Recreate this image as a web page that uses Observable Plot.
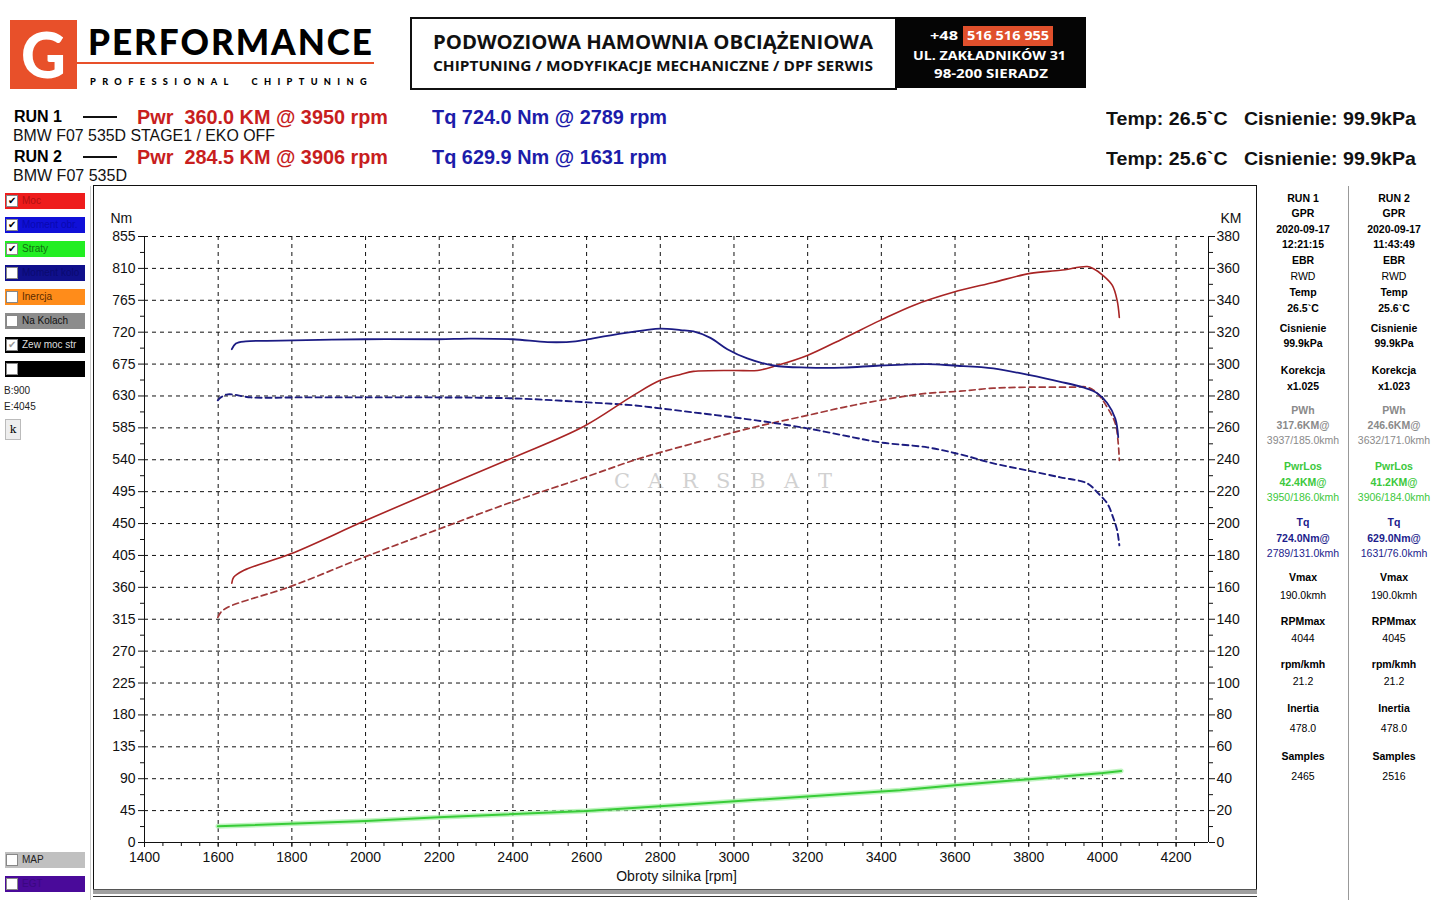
<!DOCTYPE html>
<html>
<head>
<meta charset="utf-8">
<script src="https://cdn.jsdelivr.net/npm/d3@7"></script>
<script src="https://cdn.jsdelivr.net/npm/@observablehq/plot@0.6"></script>
<style>
  html, body { margin:0; padding:0; background:#fff; }
  body { width:1440px; height:900px; position:relative; overflow:hidden; font-family:"Liberation Sans", Arial, sans-serif; color:#000; }
  .abs { position:absolute; white-space:nowrap; }
  .fit { transform-origin:0 0; display:inline-block; white-space:pre; }
  .leg { position:absolute; left:5px; width:80px; height:16px; font-size:10px; line-height:16px; }
  .leg .cb { position:absolute; left:1px; top:2px; width:10px; height:10px; background:#fff; border:1px solid #888; font-size:10px; line-height:10px; text-align:center; color:#000; }
  .leg .tx { position:absolute; left:17px; top:0; }
  .panel { position:absolute; top:186px; width:90px; text-align:center; font-family:"Liberation Sans", Arial, sans-serif; font-size:10.5px; }
  .panel div { position:absolute; left:0; width:90px; }
  .b { font-weight:bold; }
</style>
</head>
<body>
<script>
// ---------------- DATA ----------------
const xMin = 1400, xMax = 4288;
const xTickLabels = [1400,1600,1800,2000,2200,2400,2600,2800,3000,3200,3400,3600,3800,4000,4200];
const nmTickLabels = [0,45,90,135,180,225,270,315,360,405,450,495,540,585,630,675,720,765,810,855];
const kmTickLabels = [0,20,40,60,80,100,120,140,160,180,200,220,240,260,280,300,320,340,360,380];
const nmPerKm = 855 / 380;

// RUN 1 torque (Nm) - solid blue
const run1TqRpm = [1637,1648,1675,1770,2000,2198,2285,2400,2494,2570,2603,2692,2760,2800,2855,2890,2936,2982,3036,3107,3199,3297,3397,3525,3595,3704,3796,3886,3948,3986,4013,4035,4043];
const run1Tq    = [696,704,707,708,710,710,711,710,706,707,710,718,723,725,723,721,712,696,683,673,670,670,673,675,673,669,660,650,642,634,620,598,572];
// RUN 1 power (KM) - solid red
const run1PwrRpm = [1637,1642,1670,1797,1995,2196,2402,2592,2727,2800,2855,2890,2999,3064,3118,3199,3297,3397,3487,3595,3704,3804,3886,3959,3975,4002,4027,4040,4046];
const run1Pwr    = [162.6,166.3,170.7,181.0,201.4,221.4,241.5,260.9,280.4,289.8,293.5,295.4,296.0,296.0,299.2,305.4,316.1,327.4,336.8,345.0,351.2,356.9,358.8,361.2,359.9,355.5,349.3,339.9,329.2];
// RUN 2 torque (Nm) - dashed blue
const run2TqRpm = [1599,1607,1626,1689,1824,2006,2185,2402,2603,2727,2800,2890,2999,3099,3199,3297,3397,3525,3614,3704,3796,3886,3959,3986,4013,4029,4040,4046];
const run2Tq    = [623.8,628.0,632.3,628.0,628.0,628.0,628.0,626.6,621.0,616.8,612.5,606.8,599.8,592.7,584.3,574.4,564.5,557.5,547.6,534.9,525.0,515.2,506.7,494.0,478.5,458.8,440.4,419.3];
// RUN 2 power (KM) - dashed red
const run2PwrRpm = [1599,1607,1626,1797,1995,2196,2402,2603,2727,2800,2890,2999,3099,3199,3297,3397,3525,3614,3704,3804,3921,3959,3986,4013,4035,4043,4046];
const run2Pwr    = [141.2,144.3,147.5,160.6,178.8,196.3,213.9,229.6,239.6,244.6,250.3,257.2,262.8,267.8,272.9,277.3,281.7,283.0,284.9,285.5,285.5,285.5,281.7,272.9,262.8,250.3,239.6];
// Losses (KM) - green
const lossRpm = [1599,2001,2198,2600,2882,3451,3600,3801,4002,4051];
const loss    = [10.2,13.5,15.9,19.8,24.0,32.8,35.9,39.7,43.6,44.9];

// Header texts
const runTitles = ["RUN 1","RUN 2"];
const runCars = ["BMW F07 535D STAGE1 / EKO OFF","BMW F07 535D"];
const pwrTexts = ["Pwr  360.0 KM @ 3950 rpm","Pwr  284.5 KM @ 3906 rpm"];
const tqTexts = ["Tq 724.0 Nm @ 2789 rpm","Tq 629.9 Nm @ 1631 rpm"];
const envTexts = ["Temp: 26.5`C   Cisnienie: 99.9kPa","Temp: 25.6`C   Cisnienie: 99.9kPa"];
const watermarkLetters = ["C","A","R","S","B","A","T"];

// Legend items
const legendItems = [
  {label:"Moc", bg:"#ee1c1c", fg:"#b01010", checked:true},
  {label:"Moment obr.", bg:"#1010d8", fg:"#0808b0", checked:true},
  {label:"Straty", bg:"#22ee22", fg:"#107010", checked:true},
  {label:"Moment kolo", bg:"#10108c", fg:"#0a0a70", checked:false},
  {label:"Inercja", bg:"#ff8c1a", fg:"#5a2a00", checked:false},
  {label:"Na Kolach", bg:"#8c8c8c", fg:"#111", checked:false},
  {label:"Zew moc str", bg:"#000", fg:"#ddd", checked:true, gray:true},
  {label:"", bg:"#000", fg:"#fff", checked:false}
];
const legendBottom = [
  {label:"MAP", bg:"#c0c0c0", fg:"#222", checked:false},
  {label:"EGT", bg:"#4a0a9a", fg:"#3a0880", checked:false}
];

// Right info panel
const panelRows = [
  ["RUN 1","RUN 2","b","#000",199],
  ["GPR","GPR","b","#000",214],
  ["2020-09-17","2020-09-17","b","#000",230],
  ["12:21:15","11:43:49","b","#000",245],
  ["EBR","EBR","b","#000",261],
  ["RWD","RWD","","#000",277],
  ["Temp","Temp","b","#000",293],
  ["26.5`C","25.6`C","b","#000",309],
  ["Cisnienie","Cisnienie","b","#000",329],
  ["99.9kPa","99.9kPa","b","#000",344],
  ["Korekcja","Korekcja","b","#000",371],
  ["x1.025","x1.023","b","#000",387],
  ["PWh","PWh","b","#8a8a8a",411],
  ["317.6KM@","246.6KM@","b","#8a8a8a",426],
  ["3937/185.0kmh","3632/171.0kmh","","#8a8a8a",441],
  ["PwrLos","PwrLos","b","#3cc83c",467],
  ["42.4KM@","41.2KM@","b","#3cc83c",483],
  ["3950/186.0kmh","3906/184.0kmh","","#3cc83c",498],
  ["Tq","Tq","b","#1c1c8c",523],
  ["724.0Nm@","629.0Nm@","b","#1c1c8c",539],
  ["2789/131.0kmh","1631/76.0kmh","","#1c1c8c",554],
  ["Vmax","Vmax","b","#000",578],
  ["190.0kmh","190.0kmh","","#000",596],
  ["RPMmax","RPMmax","b","#000",622],
  ["4044","4045","","#000",639],
  ["rpm/kmh","rpm/kmh","b","#000",665],
  ["21.2","21.2","","#000",682],
  ["Inertia","Inertia","b","#000",709],
  ["478.0","478.0","","#000",729],
  ["Samples","Samples","b","#000",757],
  ["2465","2516","","#000",777]
];

// ---------------- HELPERS ----------------
function add(html, style) {
  const d = document.createElement("div");
  d.className = "abs";
  d.innerHTML = html;
  Object.assign(d.style, style);
  document.body.appendChild(d);
  return d;
}
function fitText(text, left, top, width, style) {
  const d = add("", {left:left+"px", top:top+"px"});
  const s = document.createElement("span");
  s.className = "fit";
  s.textContent = text;
  Object.assign(s.style, style);
  d.appendChild(s);
  const w = s.getBoundingClientRect().width;
  if (w > 0) s.style.transform = `scaleX(${width / w})`;
  return d;
}

// ---------------- HEADER ----------------
add("", {left:"10px", top:"20px", width:"67px", height:"69px", background:"#e8502a"});
add("G", {left:"10px", top:"16px", width:"67px", textAlign:"center", fontFamily:"Lato, 'Open Sans', sans-serif", fontWeight:"900", fontSize:"62px", color:"#fff", lineHeight:"76px"});
fitText("PERFORMANCE", 88, 21, 286, {fontFamily:"Lato, 'Open Sans', sans-serif", fontWeight:"900", fontSize:"36px", lineHeight:"40px", letterSpacing:"2px"});
add("", {left:"77px", top:"62px", width:"297px", height:"2px", background:"#e8502a"});
fitText("PROFESSIONAL  CHIPTUNING", 90, 71, 283, {fontFamily:"Lato, sans-serif", fontWeight:"900", fontSize:"9px", lineHeight:"12px", letterSpacing:"6.2px"});

add("", {left:"410px", top:"17px", width:"483px", height:"69px", border:"2px solid #111", boxSizing:"content-box"});
fitText("PODWOZIOWA HAMOWNIA OBCIĄŻENIOWA", 433, 30, 440, {fontFamily:"'Open Sans', sans-serif", fontWeight:"700", fontSize:"19px", lineHeight:"24px", color:"#111"});
fitText("CHIPTUNING / MODYFIKACJE MECHANICZNE / DPF SERWIS", 433, 57, 440, {fontFamily:"'Open Sans', sans-serif", fontWeight:"700", fontSize:"14px", lineHeight:"18px", color:"#111"});
add("", {left:"895px", top:"17px", width:"191px", height:"71px", background:"#050505"});
fitText("+48", 930, 26, 28, {fontFamily:"'Open Sans', sans-serif", fontWeight:"700", fontSize:"13px", lineHeight:"18px", color:"#fff"});
add("", {left:"963px", top:"26px", width:"90px", height:"20px", background:"#e0502c"});
fitText("516 516 955", 967, 26, 82, {fontFamily:"'Open Sans', sans-serif", fontWeight:"700", fontSize:"13px", lineHeight:"19px", color:"#fff"});
fitText("UL. ZAKŁADNIKÓW 31", 913, 46, 153, {fontFamily:"'Open Sans', sans-serif", fontWeight:"700", fontSize:"13px", lineHeight:"18px", color:"#fff"});
fitText("98-200 SIERADZ", 934, 64, 114, {fontFamily:"'Open Sans', sans-serif", fontWeight:"700", fontSize:"13px", lineHeight:"18px", color:"#fff"});

// Run lines
[0,1].forEach(i => {
  const y = i === 0 ? 106 : 146;
  fitText(runTitles[i], 14, y+2, 48, {fontWeight:"bold", fontSize:"16px", lineHeight:"18px"});
  add("", {left:"83px", top:(y+10)+"px", width:"34px", height:"2px", background:"#111"});
  fitText(runCars[i], 13, y+21, i === 0 ? 262 : 114, {fontSize:"16px", lineHeight:"18px", color:"#111"});
  fitText(pwrTexts[i], 137, y, 251, {fontWeight:"bold", fontSize:"20px", lineHeight:"22px", color:"#c81e1e"});
  fitText(tqTexts[i], 432, y, 235, {fontWeight:"bold", fontSize:"20px", lineHeight:"22px", color:"#1c1caa"});
  fitText(envTexts[i], 1106, y+2, 310, {fontWeight:"bold", fontSize:"19px", lineHeight:"22px", color:"#111"});
});

// ---------------- LEFT LEGEND ----------------
function legItem(it, top) {
  const d = document.createElement("div");
  d.className = "leg";
  d.style.top = top + "px";
  d.style.background = it.bg;
  d.innerHTML = `<div class="cb" style="color:${it.gray ? "#999" : "#000"}">${it.checked ? "&#10004;" : ""}</div><div class="tx" style="color:${it.fg}">${it.label}</div>`;
  document.body.appendChild(d);
}
legendItems.forEach((it, i) => legItem(it, 193 + i * 24));
add("B:900", {left:"4px", top:"385px", fontSize:"10px", color:"#222"});
add("E:4045", {left:"4px", top:"401px", fontSize:"10px", color:"#222"});
add("k", {left:"5px", top:"419px", width:"14px", height:"19px", border:"1px solid #bbb", background:"#eee", fontSize:"11px", lineHeight:"19px", textAlign:"center", fontFamily:"'DejaVu Serif', serif"});
legendBottom.forEach((it, i) => legItem(it, 852 + i * 24));
add("", {left:"90px", top:"186px", width:"1px", height:"714px", background:"#ccc"});

// ---------------- CHART FRAME ----------------
add("", {left:"93px", top:"185px", width:"1162px", height:"704px", border:"1px solid #111"});
add("", {left:"93px", top:"889px", width:"1164px", height:"4px", background:"#a0a0a0", borderTop:"1px solid #555"});
add("", {left:"93px", top:"896px", width:"1164px", height:"1px", background:"#333"});
add("", {left:"1348px", top:"186px", width:"1px", height:"714px", background:"#999"});

// ---------------- PLOT ----------------
const xMinor = d3.range(1400, 4288, 50);
const nmMinor = d3.range(22.5, 855, 45);
const kmMinorNm = d3.range(10, 380, 20).map(v => v * nmPerKm);
const kmMajorNm = kmTickLabels.map(v => v * nmPerKm);
const gridX = xTickLabels.filter(v => v > 1400);

const toRows = (xs, ys, k = 1) => xs.map((x, i) => ({rpm: x, v: ys[i] * k}));
const r1T = toRows(run1TqRpm, run1Tq);
const r1P = toRows(run1PwrRpm, run1Pwr, nmPerKm);
const r2T = toRows(run2TqRpm, run2Tq);
const r2P = toRows(run2PwrRpm, run2Pwr, nmPerKm);
const ls  = toRows(lossRpm, loss, nmPerKm);

const plot = Plot.plot({
  width: 1164,
  height: 705,
  marginLeft: 51,
  marginRight: 49,
  marginTop: 50,
  marginBottom: 49,
  style: {fontFamily: "'Liberation Sans', Arial, sans-serif", fontSize: "14px", color: "#111", background: "transparent", overflow: "visible"},
  x: {domain: [xMin, xMax], axis: null},
  y: {domain: [0, 855], axis: null},
  marks: [
    Plot.gridX(gridX, {stroke: "#111", strokeOpacity: 1, strokeDasharray: "4,4", strokeWidth: 1}),
    Plot.gridY(nmTickLabels.filter(v => v > 0), {stroke: "#111", strokeOpacity: 1, strokeDasharray: "4,4", strokeWidth: 1}),
    Plot.axisX(xTickLabels, {tickSize: 5, tickPadding: 5, tickFormat: d => String(d), label: null, fontSize: 14}),
    Plot.axisX(xMinor, {tickSize: 4, tickFormat: () => "", label: null}),
    Plot.axisY(nmTickLabels, {anchor: "left", tickSize: 6, tickPadding: 3, tickFormat: d => String(d), label: null, fontSize: 14}),
    Plot.axisY(nmMinor, {anchor: "left", tickSize: 4, tickFormat: () => "", label: null}),
    Plot.axisY(kmMajorNm, {anchor: "right", tickSize: 6, tickPadding: 2, tickFormat: d => String(Math.round(d / nmPerKm)), label: null, fontSize: 14}),
    Plot.axisY(kmMinorNm, {anchor: "right", tickSize: 4, tickFormat: () => "", label: null}),
    Plot.ruleX([xMin, xMax], {stroke: "#111", strokeWidth: 1}),
    Plot.ruleY([0], {stroke: "#111", strokeWidth: 1}),
    Plot.text(["Nm"], {frameAnchor: "top-left", dx: -34, dy: -23, fontSize: 14, textAnchor: "start"}),
    Plot.text(["KM"], {frameAnchor: "top-right", dx: 33, dy: -23, fontSize: 14, textAnchor: "end"}),
    Plot.text(["Obroty silnika [rpm]"], {frameAnchor: "bottom", dy: 38, fontSize: 14}),
    // losses
    Plot.line(ls, {x: "rpm", y: "v", stroke: "#a6f0a6", strokeWidth: 5, strokeOpacity: 0.7}),
    Plot.line(ls, {x: "rpm", y: "v", stroke: "#38cc38", strokeWidth: 2}),
    // run 2 dashed
    Plot.line(r2P, {x: "rpm", y: "v", stroke: "#a03838", strokeWidth: 1.7, strokeDasharray: "6,4", curve: "catmull-rom"}),
    Plot.line(r2T, {x: "rpm", y: "v", stroke: "#1c1c80", strokeWidth: 1.9, strokeDasharray: "6,4", curve: "catmull-rom"}),
    // run 1 solid
    Plot.line(r1P, {x: "rpm", y: "v", stroke: "#a82424", strokeWidth: 1.6, curve: "catmull-rom"}),
    Plot.line(r1T, {x: "rpm", y: "v", stroke: "#1c1c84", strokeWidth: 1.8, curve: "catmull-rom"})
  ]
});
const holder = add("", {left: "93px", top: "186px"});
holder.appendChild(plot);

// watermark
const wm = add("", {left: "614px", top: "469px", pointerEvents: "none"});
watermarkLetters.forEach((ch, i) => {
  const s = document.createElement("span");
  s.textContent = ch;
  Object.assign(s.style, {position: "absolute", left: (i * 34) + "px", top: "0px", fontFamily: "'DejaVu Serif', serif", fontSize: "21px", color: "#9a9a9a", opacity: "0.45"});
  wm.appendChild(s);
});

// ---------------- RIGHT PANEL ----------------
[0,1].forEach(c => {
  const p = document.createElement("div");
  p.className = "panel";
  p.style.left = (c === 0 ? 1258 : 1349) + "px";
  p.style.top = "0px";
  panelRows.forEach(r => {
    const d = document.createElement("div");
    d.textContent = r[c];
    d.style.top = (r[4] - 7) + "px";
    d.style.color = r[3];
    if (r[2]) d.className = "b";
    p.appendChild(d);
  });
  document.body.appendChild(p);
});
</script>
</body>
</html>
